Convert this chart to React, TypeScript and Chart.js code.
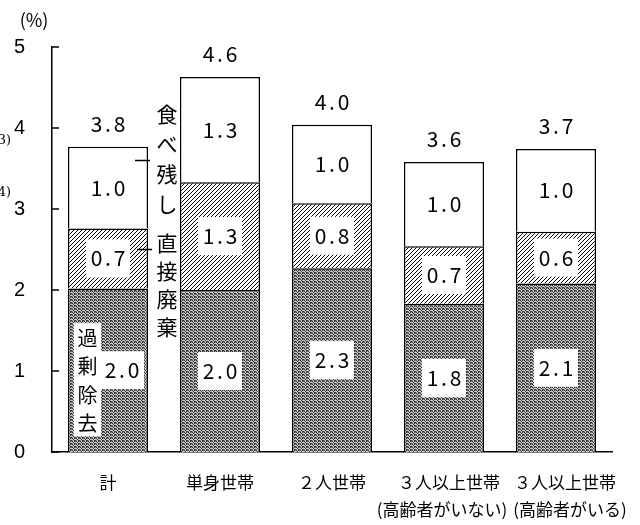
import { useEffect, useRef } from 'react';
import { Chart, registerables } from 'chart.js';

Chart.register(...registerables);

// ---- data ----
const categories: string[][] = [
  ['計'],
  ['単身世帯'],
  ['２人世帯'],
  ['３人以上世帯', '(高齢者がいない)'],
  ['３人以上世帯', '(高齢者がいる)'],
];
const seriesNames = ['過剰除去', '直接廃棄', '食べ残し'];
const overRemoval = [2.02, 2.0, 2.27, 1.83, 2.08];
const directDisposal = [0.74, 1.33, 0.8, 0.71, 0.64];
const leftovers = [1.01, 1.3, 0.97, 1.04, 1.02];
const yMax = 5;
const yStep = 1;
const unitLabel = '(%)';
// callout leader positions (value on the 計 bar) for 食べ残し / 直接廃棄
const calloutValues = [3.6, 2.5];
const strayNotes = ['3)', '4)'];

// style: small horizontal nudges of category label lines
const line1Shift = [0, 0, 0, 5, 9];
const line2Shift = [0, 0, 0, -2, 14];

const NUM_FONT = '"Noto Sans CJK JP"';

function drawMono(ctx: CanvasRenderingContext2D, text: string, cx: number, cy: number, size = 21, adv = 11.5) {
  ctx.font = `${size}px ${NUM_FONT}`;
  ctx.textAlign = 'center';
  ctx.textBaseline = 'middle';
  ctx.fillStyle = '#000';
  const n = text.length;
  const start = cx - (adv * (n - 1)) / 2;
  for (let i = 0; i < n; i++) ctx.fillText(text[i], start + i * adv, cy);
}

function drawVertical(ctx: CanvasRenderingContext2D, text: string, cx: number, firstY: number, step: number, size = 21) {
  ctx.font = `${size}px ${NUM_FONT}`;
  ctx.textAlign = 'center';
  ctx.textBaseline = 'middle';
  ctx.fillStyle = '#000';
  [...text].forEach((ch, i) => ctx.fillText(ch, cx, firstY + i * step));
}

function makeHatch(): CanvasPattern | string {
  const c = document.createElement('canvas');
  c.width = 4;
  c.height = 4;
  const g = c.getContext('2d');
  if (!g) return '#fff';
  g.fillStyle = '#fff';
  g.fillRect(0, 0, 4, 4);
  g.fillStyle = '#000';
  for (let i = 0; i < 4; i++) g.fillRect(i, 3 - i, 1, 1);
  return g.createPattern(c, 'repeat') || '#fff';
}

function makeMesh(): CanvasPattern | string {
  const rows = ['DLDM', 'LDLL', 'MLDD'];
  const col: Record<string, string> = { D: '#353535', L: '#cccccc', M: '#838383' };
  const c = document.createElement('canvas');
  c.width = 4;
  c.height = 3;
  const g = c.getContext('2d');
  if (!g) return '#888';
  rows.forEach((r, y) => {
    [...r].forEach((k, x) => {
      g.fillStyle = col[k];
      g.fillRect(x, y, 1, 1);
    });
  });
  return g.createPattern(c, 'repeat') || '#888';
}

const labelPlugin = {
  id: 'customLabels',
  afterDatasetsDraw(chart: any) {
    const ctx: CanvasRenderingContext2D = chart.ctx;
    const yScale = chart.scales.y;
    const metas = [0, 1, 2].map((i) => chart.getDatasetMeta(i));
    ctx.save();
    // segment value labels
    metas.forEach((meta: any, di: number) => {
      meta.data.forEach((bar: any, idx: number) => {
        const v = chart.data.datasets[di].data[idx] as number;
        const cy = (bar.y + bar.base) / 2;
        let cx = bar.x;
        if (di === 0 && idx === 0) {
          // combined series-name + value box in first bar
          const left = bar.x - bar.width / 2 + 6;
          const nameTop = cy - 47;
          ctx.fillStyle = '#fff';
          ctx.fillRect(left, nameTop, 27, 113);
          drawVertical(ctx, seriesNames[0], left + 13.5, nameTop + 15, 28.5, 20);
          cx = bar.x + 14;
        }
        if (di !== 2) {
          ctx.fillStyle = '#fff';
          ctx.fillRect(cx - 22, cy - 19, 44, 38);
        }
        drawMono(ctx, v.toFixed(1), cx, cy);
      });
    });
    // totals
    metas[2].data.forEach((bar: any, idx: number) => {
      const total = overRemoval[idx] + directDisposal[idx] + leftovers[idx];
      drawMono(ctx, total.toFixed(1), bar.x, bar.y - 23);
    });
    // callouts on first bar
    const b0 = metas[0].data[0];
    const right0 = b0.x + b0.width / 2;
    const colX = right0 + 19;
    ctx.strokeStyle = '#000';
    ctx.lineWidth = 1.5;
    const y1 = yScale.getPixelForValue(calloutValues[0]);
    const y2 = yScale.getPixelForValue(calloutValues[1]);
    ctx.beginPath();
    ctx.moveTo(right0 - 13, y1);
    ctx.lineTo(right0 + 2, y1);
    ctx.moveTo(right0 - 11, y2);
    ctx.lineTo(right0 + 4, y2);
    ctx.stroke();
    drawVertical(ctx, seriesNames[2], colX, y1 - 46, 30, 21);
    drawVertical(ctx, seriesNames[1], colX, y2 - 6, 28, 21);
    ctx.restore();
  },
  afterDraw(chart: any) {
    const ctx: CanvasRenderingContext2D = chart.ctx;
    const yScale = chart.scales.y;
    const xScale = chart.scales.x;
    const left = chart.chartArea.left;
    const bottom = chart.chartArea.bottom;
    ctx.save();
    ctx.strokeStyle = '#000';
    ctx.lineWidth = 1.5;
    ctx.beginPath();
    yScale.ticks.forEach((t: any) => {
      const y = yScale.getPixelForValue(t.value);
      ctx.moveTo(left, y);
      ctx.lineTo(left + 7, y);
    });
    ctx.stroke();
    ctx.fillStyle = '#000';
    // category labels
    ctx.font = `17px ${NUM_FONT}`;
    ctx.textAlign = 'center';
    ctx.textBaseline = 'middle';
    categories.forEach((lines, i) => {
      const x = xScale.getPixelForValue(i);
      ctx.fillText(lines[0], x + line1Shift[i], bottom + 31);
      if (lines[1]) ctx.fillText(lines[1], x + line2Shift[i], bottom + 58);
    });
    ctx.font = `18px ${NUM_FONT}`;
    ctx.fillText(unitLabel, 34, 20);
    ctx.font = '13px "DejaVu Serif"';
    ctx.textAlign = 'right';
    ctx.fillText(strayNotes[0], 11, 141);
    ctx.fillText(strayNotes[1], 11, 193);
    ctx.restore();
  },
};

export default function App() {
  const ref = useRef<HTMLCanvasElement | null>(null);
  useEffect(() => {
    if (!ref.current) return;
    const hatch = makeHatch();
    const mesh = makeMesh();
    const common = {
      borderColor: '#000',
      borderWidth: 1.5,
      barPercentage: 0.715,
      categoryPercentage: 1,
    };
    const chart = new Chart(ref.current, {
      type: 'bar',
      data: {
        labels: categories.map((c) => c.join(' ')),
        datasets: [
          { label: seriesNames[0], data: overRemoval, backgroundColor: mesh as any, ...common },
          { label: seriesNames[1], data: directDisposal, backgroundColor: hatch as any, ...common },
          { label: seriesNames[2], data: leftovers, backgroundColor: '#fff', ...common },
        ],
      },
      options: {
        animation: false,
        responsive: true,
        maintainAspectRatio: false,
        layout: { padding: { top: 47, right: 28, left: 0, bottom: 0 } },
        plugins: { legend: { display: false }, tooltip: { enabled: false } },
        scales: {
          x: {
            stacked: true,
            grid: { display: false, drawTicks: false },
            border: { display: true, color: '#000', width: 1.5 },
            ticks: { display: false },
            afterFit: (s: any) => {
              s.height = 73;
            },
          },
          y: {
            stacked: true,
            min: 0,
            max: yMax,
            grid: { display: false, drawTicks: false },
            border: { display: true, color: '#000', width: 1.5 },
            ticks: {
              stepSize: yStep,
              color: '#000',
              padding: 27,
              font: { family: 'Liberation Sans', size: 20 },
            },
            afterFit: (s: any) => {
              s.width = 52;
            },
          },
        },
      },
      plugins: [labelPlugin],
    });
    return () => chart.destroy();
  }, []);
  return (
    <div style={{ position: 'absolute', left: 0, top: 0, width: 640, height: 525, background: '#fff' }}>
      <canvas ref={ref} />
    </div>
  );
}
